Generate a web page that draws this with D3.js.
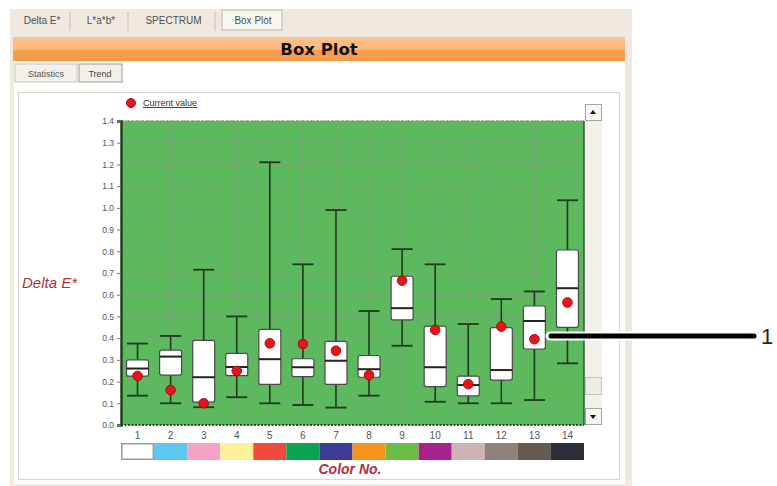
<!DOCTYPE html>
<html><head><meta charset="utf-8">
<script src="https://cdn.jsdelivr.net/npm/d3@7"></script>
<style>body{margin:0;background:#fff}svg{display:block}</style>
</head><body>
<script>
// ---- data ----
const categories = ["1","2","3","4","5","6","7","8","9","10","11","12","13","14"];
const whiskerHigh = [0.375,0.41,0.715,0.50,1.21,0.74,0.99,0.525,0.81,0.74,0.465,0.58,0.615,1.035];
const q3Values    = [0.30,0.345,0.39,0.33,0.44,0.305,0.385,0.32,0.685,0.455,0.225,0.448,0.548,0.806];
const medianVals  = [0.26,0.315,0.22,0.267,0.303,0.266,0.296,0.257,0.538,0.266,0.184,0.253,0.479,0.63];
const q1Values    = [0.225,0.23,0.105,0.227,0.187,0.223,0.187,0.22,0.484,0.177,0.134,0.207,0.35,0.45];
const whiskerLow  = [0.135,0.10,0.082,0.128,0.10,0.092,0.08,0.135,0.365,0.107,0.10,0.10,0.115,0.284];
const currentVals = [0.226,0.161,0.10,0.249,0.376,0.373,0.342,0.23,0.665,0.438,0.188,0.453,0.395,0.564];
const swatchColors = ["#ffffff","#5cc8f0","#f4a2c6","#fdf09a","#ef4a3b","#0ba34f","#3d3c95","#f7941f","#6cbd45","#a6238f","#cdb4b4","#8f827c","#675a55","#2b2f39"];
const yTicks = [0,0.1,0.2,0.3,0.4,0.5,0.6,0.7,0.8,0.9,1.0,1.1,1.2,1.3,1.4];
const tabLabels = ["Delta E*","L*a*b*","SPECTRUM","Box Plot"];

const W=777,H=486;
const svg=d3.select("body").append("svg").attr("width",W).attr("height",H);
const font="'Liberation Sans', Arial, sans-serif";

// frame
svg.append("rect").attr("x",10).attr("y",9).attr("width",622).attr("height",H-9).attr("fill","#efe9df");
svg.append("rect").attr("x",14).attr("y",61).attr("width",611).attr("height",423).attr("fill","#ffffff");

// tabs
const tabX=[[12,70],[72,128],[130,215],[222,282]];
tabLabels.forEach((t,i)=>{
  const [a,b]=tabX[i];
  if(i===3){
    svg.append("rect").attr("x",a).attr("y",10).attr("width",b-a).attr("height",20).attr("fill","#f8f6f1").attr("stroke","#b9b4aa");
  } else {
    svg.append("line").attr("x1",b).attr("x2",b).attr("y1",12).attr("y2",31).attr("stroke","#d3cec4").attr("stroke-width",1.5);
  }
  svg.append("text").attr("x",(a+b)/2+1).attr("y",24).attr("text-anchor","middle").attr("font-family",font).attr("font-size",10).attr("fill","#505050").text(t);
});

// orange header
const grad=svg.append("defs").append("linearGradient").attr("id","og").attr("x1",0).attr("y1",0).attr("x2",0).attr("y2",1);
grad.append("stop").attr("offset","0").attr("stop-color","#fdc28d");
grad.append("stop").attr("offset","0.55").attr("stop-color","#fbb77c");
grad.append("stop").attr("offset","0.56").attr("stop-color","#f89e4f");
grad.append("stop").attr("offset","1").attr("stop-color","#f79a4a");
svg.append("rect").attr("x",13).attr("y",37).attr("width",612).attr("height",24).attr("fill","url(#og)");
svg.append("text").attr("x",319).attr("y",55).attr("text-anchor","middle").attr("font-family","'DejaVu Sans', Verdana, sans-serif").attr("font-weight","bold").attr("font-size",16.5).attr("fill","#111").text("Box Plot");

// sub tabs
svg.append("rect").attr("x",15).attr("y",64).attr("width",62).attr("height",18).attr("fill","#f3f1ec").attr("stroke","#c8c3b9");
svg.append("text").attr("x",46).attr("y",77).attr("text-anchor","middle").attr("font-family",font).attr("font-size",9).attr("fill","#555").text("Statistics");
svg.append("rect").attr("x",79).attr("y",64).attr("width",43).attr("height",18).attr("fill","#f3f0ea").attr("stroke","#9e9a92");
svg.append("text").attr("x",100).attr("y",77).attr("text-anchor","middle").attr("font-family",font).attr("font-size",9).attr("fill","#444").text("Trend");

// inner panel
svg.append("rect").attr("x",18.5).attr("y",92.5).attr("width",601).attr("height",387).attr("fill","#fff").attr("stroke","#d8d4cc");

// legend
svg.append("circle").attr("cx",131).attr("cy",103).attr("r",4.5).attr("fill","#e8141c").attr("stroke","#b0080e");
svg.append("text").attr("x",143).attr("y",106).attr("font-family",font).attr("font-size",9).attr("fill","#333").attr("text-decoration","underline").text("Current value");

// scales
const x=d3.scaleBand().domain(categories).range([121,584]).padding(0);
const y=d3.scaleLinear().domain([0,1.4]).range([425,121]);

// plot bg
svg.append("rect").attr("x",121).attr("y",121).attr("width",463).attr("height",304).attr("fill","#5cb95e");

// grid
const g=svg.append("g");
g.selectAll("line.h").data(yTicks.slice(1)).join("line").attr("x1",121).attr("x2",584)
 .attr("y1",d=>y(d)).attr("y2",d=>y(d)).attr("stroke","#8a9a86").attr("stroke-dasharray","3,2").attr("stroke-width",1);
g.selectAll("line.v").data(categories).join("line").attr("y1",121).attr("y2",425)
 .attr("x1",d=>x(d)+x.bandwidth()/2).attr("x2",d=>x(d)+x.bandwidth()/2).attr("stroke","#8a9a86").attr("stroke-dasharray","3,2");

// borders
svg.append("line").attr("x1",121).attr("x2",584).attr("y1",425).attr("y2",425).attr("stroke","#111").attr("stroke-dasharray","2,1.5").attr("stroke-width",1.5);
svg.append("line").attr("x1",121).attr("x2",584).attr("y1",121).attr("y2",121).attr("stroke","#7d8c7a").attr("stroke-dasharray","2,1.5");
svg.append("line").attr("x1",584).attr("x2",584).attr("y1",121).attr("y2",425).attr("stroke","#2c5a2c").attr("stroke-width",1.5);

// y axis
const yAxis=d3.axisLeft(y).tickValues(yTicks).tickFormat(d3.format(".1f")).tickSize(4).tickPadding(3);
const ya=svg.append("g").attr("transform","translate(121,0)").call(yAxis);
ya.select(".domain").attr("stroke","#1e421e").attr("stroke-width",2.5);
ya.selectAll(".tick line").attr("stroke","#777");
ya.selectAll("text").attr("font-family",font).attr("font-size",8.5).attr("fill","#555");

// x axis labels
const xAxis=d3.axisBottom(x).tickSize(0).tickPadding(7);
const xa=svg.append("g").attr("transform","translate(0,425)").call(xAxis);
xa.select(".domain").remove();
xa.selectAll("text").attr("font-family",font).attr("font-size",10).attr("fill","#555");

// boxes
const data=categories.map((c,i)=>({c,hi:whiskerHigh[i],q3:q3Values[i],med:medianVals[i],q1:q1Values[i],lo:whiskerLow[i],cur:currentVals[i]}));
const bw=22, cw=21;
const bx=svg.append("g");
const cx=d=>x(d.c)+x.bandwidth()/2;
bx.selectAll("line.w").data(data).join("line").attr("x1",cx).attr("x2",cx).attr("y1",d=>y(d.hi)).attr("y2",d=>y(d.lo)).attr("stroke","#1d3b1d").attr("stroke-width",1.6);
bx.selectAll("line.ch").data(data).join("line").attr("x1",d=>cx(d)-cw/2).attr("x2",d=>cx(d)+cw/2).attr("y1",d=>y(d.hi)).attr("y2",d=>y(d.hi)).attr("stroke","#1d3b1d").attr("stroke-width",1.8);
bx.selectAll("line.cl").data(data).join("line").attr("x1",d=>cx(d)-cw/2).attr("x2",d=>cx(d)+cw/2).attr("y1",d=>y(d.lo)).attr("y2",d=>y(d.lo)).attr("stroke","#1d3b1d").attr("stroke-width",1.8);
bx.selectAll("rect.b").data(data).join("rect").attr("x",d=>cx(d)-bw/2).attr("width",bw).attr("y",d=>y(d.q3)).attr("height",d=>y(d.q1)-y(d.q3))
 .attr("rx",2).attr("fill","#fff").attr("stroke","#4a4a4a").attr("stroke-width",1.2);
bx.selectAll("line.m").data(data).join("line").attr("x1",d=>cx(d)-bw/2).attr("x2",d=>cx(d)+bw/2).attr("y1",d=>y(d.med)).attr("y2",d=>y(d.med)).attr("stroke","#222").attr("stroke-width",2);
bx.selectAll("circle.cur").data(data).join("circle").attr("cx",cx).attr("cy",d=>y(d.cur)).attr("r",4.8).attr("fill","#e8141c").attr("stroke","#b3080f").attr("stroke-width",1);

// swatches
svg.selectAll("rect.sw").data(categories).join("rect").attr("x",d=>x(d)).attr("y",443).attr("width",x.bandwidth()).attr("height",17)
 .attr("fill",(d,i)=>swatchColors[i]);
svg.append("rect").attr("x",x("1")+0.75).attr("y",443.75).attr("width",x.bandwidth()-1.5).attr("height",15.5).attr("fill","none").attr("stroke","#9a9a9a").attr("stroke-width",1.5);

// axis titles
svg.append("text").attr("x",22).attr("y",288).attr("font-family",font).attr("font-style","italic").attr("font-size",15).attr("fill","#b0303c").text("Delta E*");
svg.append("text").attr("x",350).attr("y",474).attr("text-anchor","middle").attr("font-family",font).attr("font-style","italic").attr("font-weight","bold").attr("font-size",14).attr("fill","#b0303c").text("Color No.");

// scrollbar
svg.append("rect").attr("x",585).attr("y",104).attr("width",17).attr("height",321).attr("fill","#f4f1ea");
[[104],[408]].forEach(([yy],i)=>{
  svg.append("rect").attr("x",585.5).attr("y",yy+0.5).attr("width",16).attr("height",16).attr("fill","#f8f7f3").attr("stroke","#a9a59d");
  const t=i===0?`M590,${yy+10} L596,${yy+10} L593,${yy+6}Z`:`M590,${yy+7} L596,${yy+7} L593,${yy+11}Z`;
  svg.append("path").attr("d",t).attr("fill","#111");
});
svg.append("rect").attr("x",585.5).attr("y",377.5).attr("width",16).attr("height",17).attr("fill","#efece5").attr("stroke","#c9c5bc");

// callout
svg.append("line").attr("x1",550).attr("x2",755).attr("y1",336).attr("y2",336).attr("stroke","#fff").attr("stroke-width",9).attr("stroke-linecap","round");
svg.append("line").attr("x1",551).attr("x2",754).attr("y1",336).attr("y2",336).attr("stroke","#000").attr("stroke-width",5).attr("stroke-linecap","round");
svg.append("text").attr("x",761).attr("y",344).attr("font-family",font).attr("font-size",22).attr("fill","#2e2414").text("1");
</script>
</body></html>
